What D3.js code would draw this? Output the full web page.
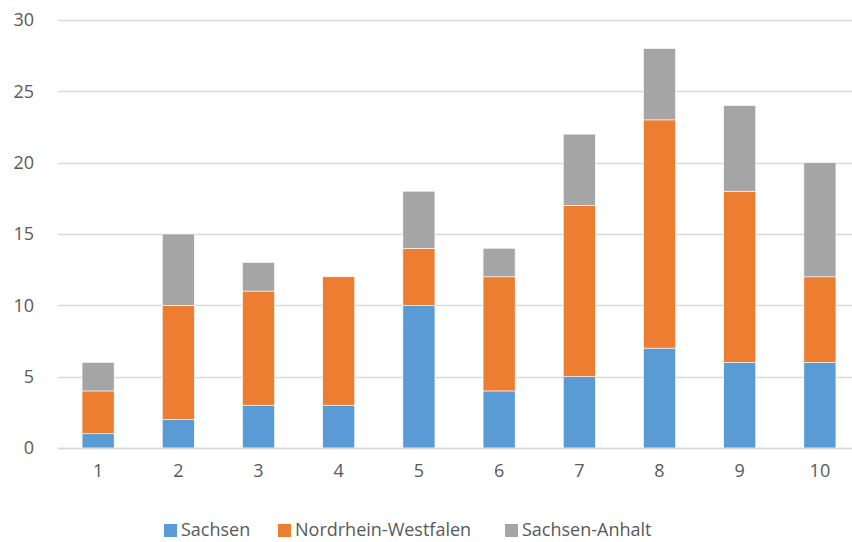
<!DOCTYPE html>
<meta charset="utf-8">
<style>
body { margin: 0; background: #fff; }
svg text { font-family: 'Open Sans', sans-serif; fill: #595959; }
</style>
<body>
<div id="chart"></div>
<script src="https://d3js.org/d3.v7.min.js"></script>
<script>
const width = 852, height = 542;

// data
const categories = ["1", "2", "3", "4", "5", "6", "7", "8", "9", "10"];
const seriesNames = ["Sachsen", "Nordrhein-Westfalen", "Sachsen-Anhalt"];
const sachsen = [1, 2, 3, 3, 10, 4, 5, 7, 6, 6];
const nrw = [3, 8, 8, 9, 4, 8, 12, 16, 12, 6];
const anhalt = [2, 5, 2, 0, 4, 2, 5, 5, 6, 8];
const yTicks = [0, 5, 10, 15, 20, 25, 30];
const colors = ["#5b9bd5", "#ed7d31", "#a5a5a5"];

const rows = categories.map((c, i) => ({
	cat: c,
	"Sachsen": sachsen[i],
	"Nordrhein-Westfalen": nrw[i],
	"Sachsen-Anhalt": anhalt[i]
}));

const margin = {left: 58, right: -8, top: 20, bottom: 94};

const x = d3.scaleBand()
	.domain(categories)
	.range([margin.left, width - margin.right])
	.paddingInner(0.6)
	.paddingOuter(0.3);

const y = d3.scaleLinear()
	.domain([0, 30])
	.range([height - margin.bottom, margin.top]);

const svg = d3.select("#chart").append("svg")
	.attr("width", width)
	.attr("height", height);

// gridlines
svg.append("g")
	.selectAll("line")
	.data(yTicks)
	.enter().append("line")
	.attr("x1", margin.left)
	.attr("x2", width)
	.attr("y1", d => Math.round(y(d)) + 0.5)
	.attr("y2", d => Math.round(y(d)) + 0.5)
	.attr("stroke", "#d9d9d9")
	.attr("stroke-width", 1.3);

// y labels
svg.append("g")
	.selectAll("text")
	.data(yTicks)
	.enter().append("text")
	.attr("x", 34)
	.attr("y", d => y(d))
	.attr("dy", "0.35em")
	.attr("text-anchor", "end")
	.style("font-size", "18px")
	.text(d => d);

// stacked bars
const stack = d3.stack().keys(seriesNames)(rows);

svg.append("g")
	.selectAll("g")
	.data(stack)
	.enter().append("g")
	.attr("fill", (d, i) => colors[i])
	.selectAll("rect")
	.data(d => d)
	.enter().append("rect")
	.attr("x", d => x(d.data.cat))
	.attr("width", x.bandwidth())
	.attr("y", d => y(d[1]))
	.attr("height", d => y(d[0]) - y(d[1]))
	.attr("stroke", "#fff")
	.attr("stroke-width", 0.6);

// baseline
svg.append("line")
	.attr("x1", margin.left)
	.attr("x2", width)
	.attr("y1", y(0) + 0.5)
	.attr("y2", y(0) + 0.5)
	.attr("stroke", "#d9d9d9")
	.attr("stroke-width", 1.3);

// x labels
svg.append("g")
	.selectAll("text")
	.data(categories)
	.enter().append("text")
	.attr("x", d => x(d) + x.bandwidth() / 2)
	.attr("y", y(0) + 29)
	.attr("text-anchor", "middle")
	.style("font-size", "18px")
	.text(d => d);

// legend
const legendX = [164, 278, 505];
const legend = svg.append("g");
seriesNames.forEach(function(name, i) {
	legend.append("rect")
		.attr("x", legendX[i])
		.attr("y", 524)
		.attr("width", 13)
		.attr("height", 13)
		.attr("fill", colors[i]);
	legend.append("text")
		.attr("x", legendX[i] + 17)
		.attr("y", 536)
		.style("font-size", "18px")
		.text(name);
});
</script>
</body>
